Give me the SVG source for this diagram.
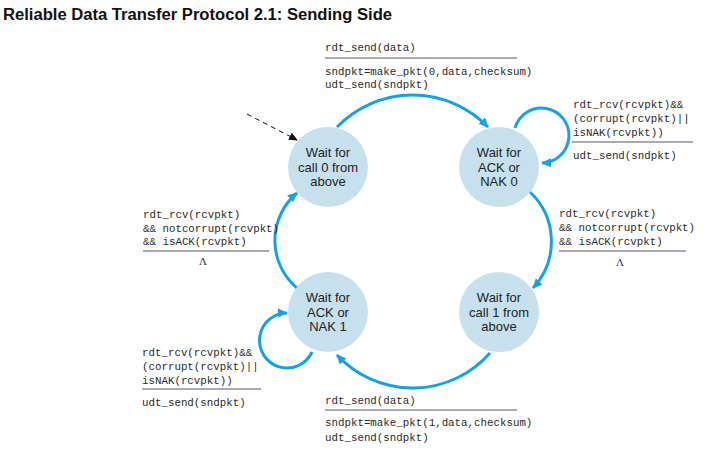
<svg xmlns="http://www.w3.org/2000/svg" width="712" height="465" viewBox="0 0 712 465">
<style>
.title{font-family:"Liberation Sans",Arial,sans-serif;font-weight:bold;font-size:16px;fill:#111}
.st{fill:#c6e0ee}
.sl{font-family:"Liberation Sans",Arial,sans-serif;font-size:13px;fill:#222;text-anchor:middle}
.code{font-family:"Liberation Mono","Courier New",monospace;font-size:10.8px;fill:#2a2a2a}
.lam{font-family:"Liberation Serif",serif;font-size:11px;fill:#2a2a2a;text-anchor:middle}
.rule{stroke:#55576f;stroke-width:1.2}
.edge{fill:none;stroke:#12a3e6;stroke-width:3;marker-end:url(#ah)}
</style>
<defs>
<marker id="ah" markerUnits="userSpaceOnUse" markerWidth="12" markerHeight="10" refX="9" refY="4.5" orient="auto">
<path d="M0,0 L10,4.5 L0,9 z" fill="#12a3e6"/>
</marker>
<marker id="ahd" markerUnits="userSpaceOnUse" markerWidth="10" markerHeight="8" refX="8" refY="4" orient="auto">
<path d="M0,0 L9,4 L0,8 z" fill="#111"/>
</marker>
</defs>
<rect width="712" height="465" fill="#fff"/>
<text class="title" x="3" y="19.5" textLength="389" lengthAdjust="spacingAndGlyphs">Reliable Data Transfer Protocol 2.1: Sending Side</text>

<g id="connectors">
<path d="M247,114 L297,140" fill="none" stroke="#111" stroke-width="1" stroke-dasharray="5,4" marker-end="url(#ahd)"/>
<path class="edge" d="M337,127 A105,105 0 0 1 488,127"/>
<path class="edge" d="M530,192 A68,68 0 0 1 533,288"/>
<path class="edge" d="M490,353 A103,103 0 0 1 337,355"/>
<path class="edge" d="M297,288 A62,62 0 0 1 297,193"/>
<path class="edge" d="M515,128 A27.5,27.5 0 1 1 542,163"/>
<path class="edge" d="M312,352 A27.5,27.5 0 1 1 287,313"/>
</g>

<g id="s0">
<circle class="st" cx="328" cy="167" r="40"/>
<text class="sl" x="328" y="157">Wait for</text>
<text class="sl" x="328" y="171.6">call 0 from</text>
<text class="sl" x="328" y="186.2">above</text>
</g>
<g id="s1">
<circle class="st" cx="499" cy="167" r="40"/>
<text class="sl" x="499" y="157">Wait for</text>
<text class="sl" x="499" y="171.6">ACK or</text>
<text class="sl" x="499" y="186.2">NAK 0</text>
</g>
<g id="s2">
<circle class="st" cx="499" cy="312" r="40"/>
<text class="sl" x="499" y="302">Wait for</text>
<text class="sl" x="499" y="316.6">call 1 from</text>
<text class="sl" x="499" y="331.2">above</text>
</g>
<g id="s3">
<circle class="st" cx="328" cy="312" r="40"/>
<text class="sl" x="328" y="302">Wait for</text>
<text class="sl" x="328" y="316.6">ACK or</text>
<text class="sl" x="328" y="331.2">NAK 1</text>
</g>

<g id="label-top">
<text class="code" x="325" y="51">rdt_send(data)</text>
<line class="rule" x1="325" y1="58" x2="517" y2="58"/>
<text class="code" x="325" y="75">sndpkt=make_pkt(0,data,checksum)</text>
<text class="code" x="325" y="88">udt_send(sndpkt)</text>
</g>
<g id="label-loop0">
<text class="code" x="573" y="108">rdt_rcv(rcvpkt)&amp;&amp;</text>
<text class="code" x="573" y="122">(corrupt(rcvpkt)||</text>
<text class="code" x="573" y="136">isNAK(rcvpkt))</text>
<line class="rule" x1="572" y1="142" x2="693" y2="142"/>
<text class="code" x="573" y="159">udt_send(sndpkt)</text>
</g>
<g id="label-right">
<text class="code" x="559" y="217">rdt_rcv(rcvpkt)</text>
<text class="code" x="559" y="231">&amp;&amp; notcorrupt(rcvpkt)</text>
<text class="code" x="559" y="245">&amp;&amp; isACK(rcvpkt)</text>
<line class="rule" x1="559" y1="251" x2="686" y2="251"/>
<text class="lam" x="620" y="266">Λ</text>
</g>
<g id="label-left">
<text class="code" x="143" y="218">rdt_rcv(rcvpkt)</text>
<text class="code" x="143" y="232">&amp;&amp; notcorrupt(rcvpkt)</text>
<text class="code" x="143" y="245">&amp;&amp; isACK(rcvpkt)</text>
<line class="rule" x1="143" y1="251" x2="269" y2="251"/>
<text class="lam" x="203" y="265">Λ</text>
</g>
<g id="label-loop1">
<text class="code" x="142" y="356">rdt_rcv(rcvpkt)&amp;&amp;</text>
<text class="code" x="142" y="370">(corrupt(rcvpkt)||</text>
<text class="code" x="142" y="384">isNAK(rcvpkt))</text>
<line class="rule" x1="142" y1="389" x2="261" y2="389"/>
<text class="code" x="142" y="406">udt_send(sndpkt)</text>
</g>
<g id="label-bottom">
<text class="code" x="325" y="404">rdt_send(data)</text>
<line class="rule" x1="325" y1="410" x2="517" y2="410"/>
<text class="code" x="325" y="426">sndpkt=make_pkt(1,data,checksum)</text>
<text class="code" x="325" y="441">udt_send(sndpkt)</text>
</g>
</svg>
